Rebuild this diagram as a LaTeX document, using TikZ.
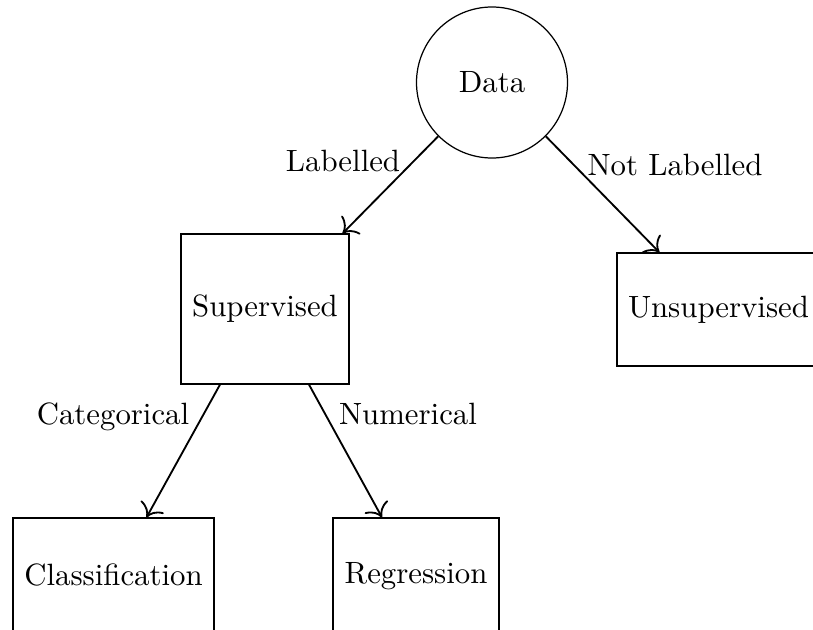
\documentclass[tikz,border=0pt]{standalone}
\usetikzlibrary{calc,arrows.meta}
\begin{document}
\begin{tikzpicture}[x=0.3247pt,y=-0.3247pt,
  box/.style={draw, rectangle, inner sep=0pt},
  conn/.style={-{To[scale=1.4]}, semithick},
  lbl/.style={inner sep=0pt}]
\useasboundingbox (0,0) rectangle (813,630);
\clip (0,0) rectangle (813,630);
\node[draw, circle, minimum size=49.03pt, inner sep=0pt] (data) at (492,82.5) {Data};
\node[box, minimum width=54.55pt, minimum height=48.7pt] (sup) at (265,309) {Supervised};
\node[box, minimum width=65.9pt, minimum height=36.7pt] (unsup) at (718.5,309.5) {Unsupervised};
\node[box, minimum width=65.26pt, minimum height=37.0pt] (cls) at (113.5,575) {Classification};
\node[box, minimum width=53.9pt, minimum height=38.3pt] (reg) at (416,577) {\raisebox{2.3pt}{Regression}};
\draw[conn] (data.225) -- ($(sup.north east)+(-7,0)$);
\draw[conn] (data.315) -- ($(unsup.north west)+(43,0)$);
\draw[conn] ($(sup.south)+(-45,0)$) -- ($(cls.north)+(33,0)$);
\draw[conn] ($(sup.south)+(44,0)$) -- ($(reg.north)+(-34,0)$);
\node[lbl] (l1) at (343,161) {Labelled};
\node[lbl] (l2) at (675,165) {Not Labelled};
\node[lbl] (l3) at (113,417) {Categorical};
\node[lbl] (l4) at (408,414) {Numerical};
\end{tikzpicture}
\end{document}
